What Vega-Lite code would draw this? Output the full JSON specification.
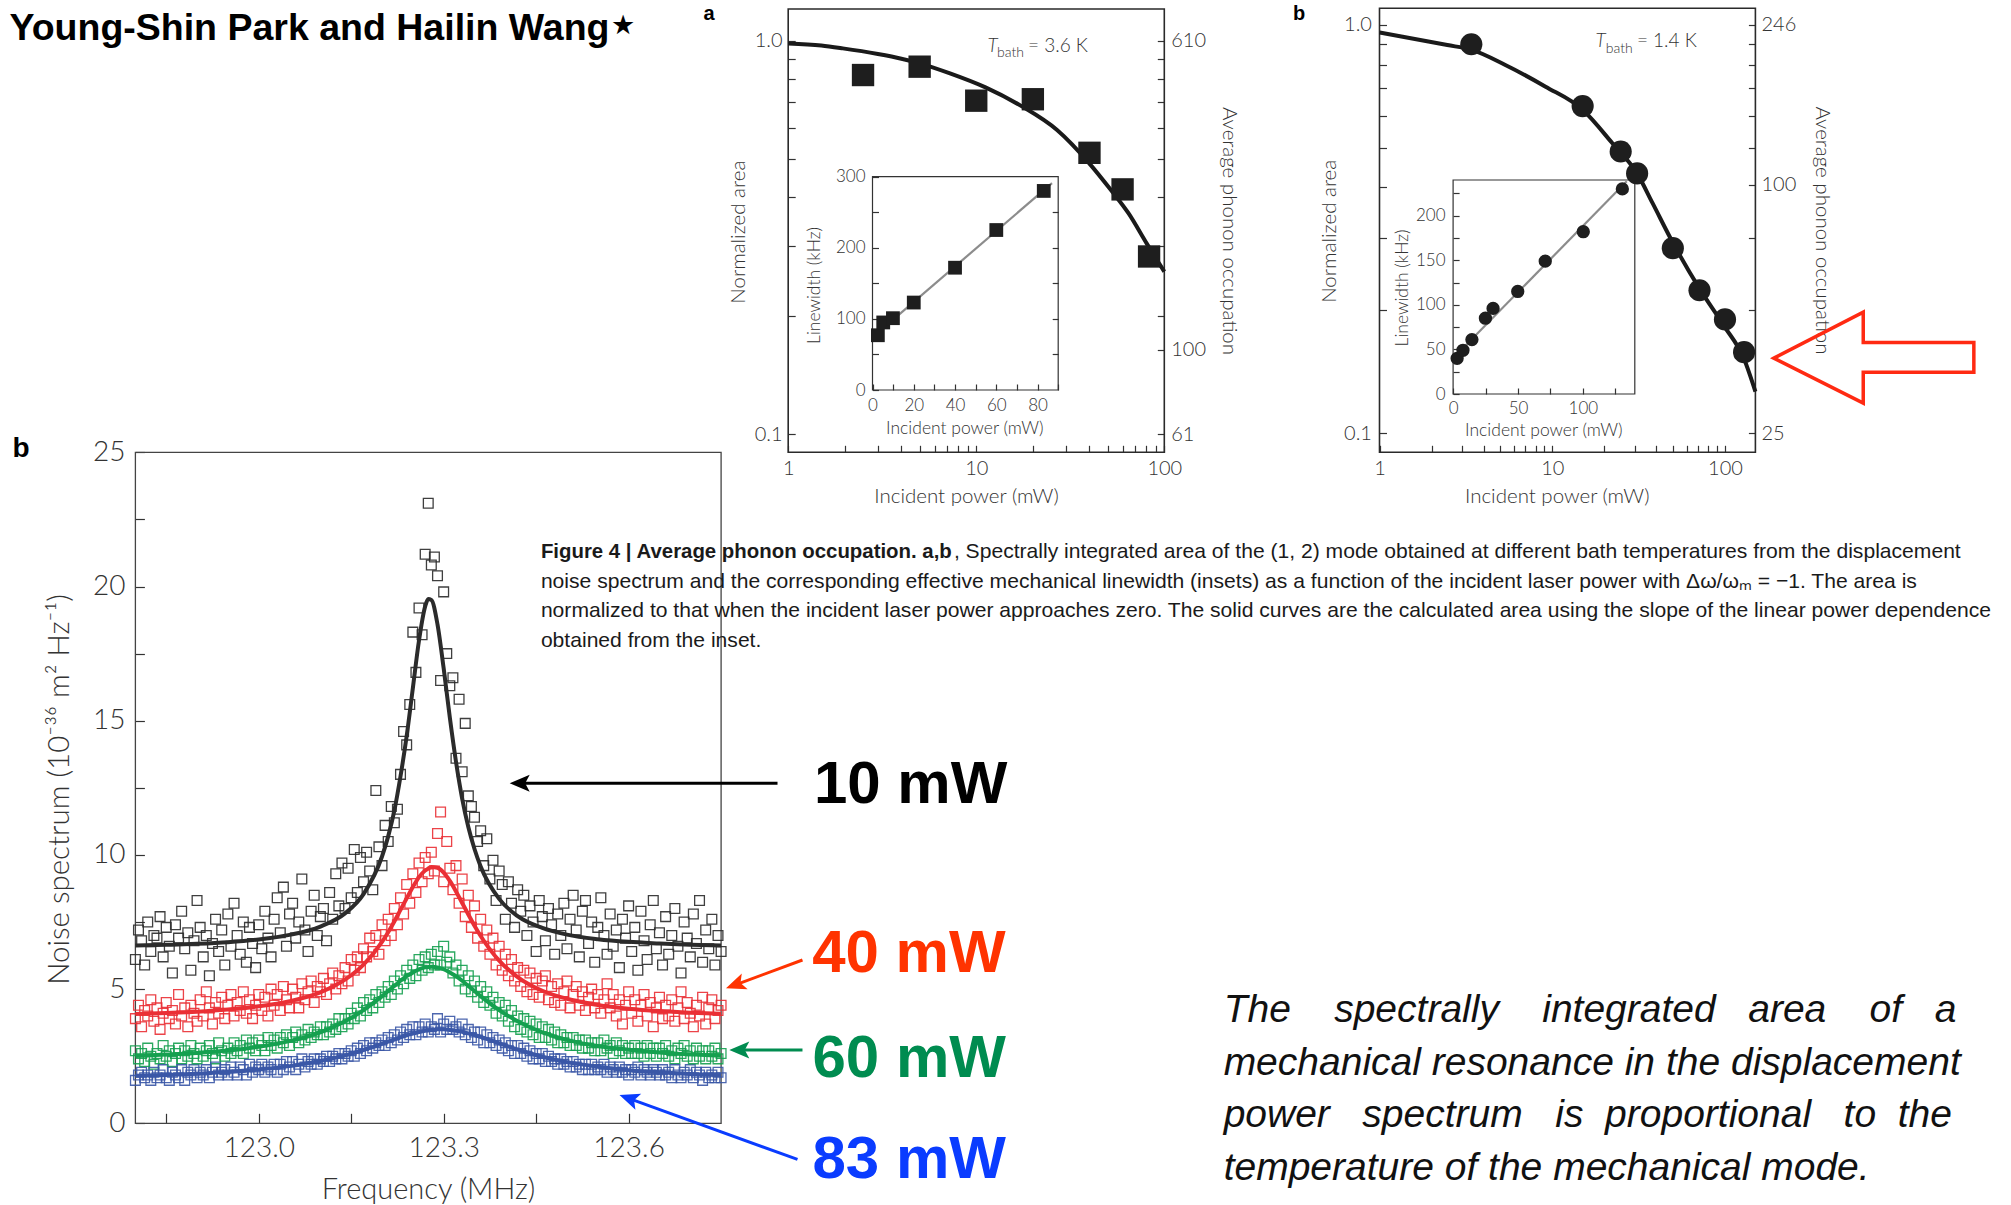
{
  "$schema": "https://vega.github.io/schema/vega-lite/v6.json",
  "width": 2011,
  "height": 1205,
  "autosize": {"type": "none"},
  "padding": 0,
  "background": "#ffffff",
  "config": {
    "view": {"stroke": null},
    "axis": {
      "grid": false, "domain": false,
      "labelFont": "Lato", "titleFont": "Lato",
      "labelFontWeight": 300, "titleFontWeight": 300,
      "labelColor": "#333333", "titleColor": "#333333",
      "tickColor": "#333333", "tickWidth": 1.2,
      "labelOverlap": false, "labelFlush": false, "labelBound": false
    },
    "text": {"font": "Lato"}
  },
  "datasets": {
    "spectra": [
      {"f":122.800,"p10":6.1,"p40":3.9,"p60":2.7,"p83":1.6},
      {"f":122.805,"p10":7.2,"p40":4.4,"p60":2.4,"p83":1.8},
      {"f":122.810,"p10":6.8,"p40":3.6,"p60":2.6,"p83":1.9},
      {"f":122.815,"p10":5.9,"p40":4.2,"p60":2.3,"p83":1.7},
      {"f":122.820,"p10":7.5,"p40":4.0,"p60":2.8,"p83":1.8},
      {"f":122.825,"p10":6.4,"p40":4.6,"p60":2.5,"p83":1.6},
      {"f":122.830,"p10":7.0,"p40":3.8,"p60":2.2,"p83":1.9},
      {"f":122.835,"p10":6.9,"p40":4.3,"p60":2.6,"p83":1.7},
      {"f":122.840,"p10":7.7,"p40":3.5,"p60":2.4,"p83":1.8},
      {"f":122.845,"p10":6.2,"p40":4.1,"p60":2.9,"p83":2.0},
      {"f":122.850,"p10":7.3,"p40":4.5,"p60":2.5,"p83":1.7},
      {"f":122.855,"p10":6.6,"p40":3.9,"p60":2.7,"p83":1.6},
      {"f":122.860,"p10":5.6,"p40":4.2,"p60":2.3,"p83":1.9},
      {"f":122.865,"p10":7.4,"p40":3.7,"p60":2.6,"p83":1.8},
      {"f":122.870,"p10":6.9,"p40":4.8,"p60":2.8,"p83":1.7},
      {"f":122.875,"p10":7.9,"p40":4.0,"p60":2.4,"p83":2.0},
      {"f":122.880,"p10":6.5,"p40":4.3,"p60":2.7,"p83":1.6},
      {"f":122.885,"p10":7.1,"p40":3.6,"p60":2.5,"p83":1.9},
      {"f":122.890,"p10":5.7,"p40":4.4,"p60":2.9,"p83":1.8},
      {"f":122.895,"p10":6.8,"p40":4.1,"p60":2.6,"p83":2.0},
      {"f":122.900,"p10":8.3,"p40":3.8,"p60":2.4,"p83":1.7},
      {"f":122.905,"p10":7.3,"p40":4.6,"p60":2.8,"p83":1.9},
      {"f":122.910,"p10":6.2,"p40":4.0,"p60":2.5,"p83":1.8},
      {"f":122.915,"p10":7.0,"p40":4.9,"p60":2.7,"p83":2.0},
      {"f":122.920,"p10":5.5,"p40":4.3,"p60":2.9,"p83":1.7},
      {"f":122.925,"p10":6.7,"p40":3.7,"p60":2.6,"p83":1.9},
      {"f":122.930,"p10":7.6,"p40":4.5,"p60":2.4,"p83":2.1},
      {"f":122.935,"p10":6.4,"p40":4.1,"p60":3.0,"p83":1.8},
      {"f":122.940,"p10":7.2,"p40":4.7,"p60":2.7,"p83":1.9},
      {"f":122.945,"p10":5.9,"p40":3.9,"p60":2.5,"p83":2.0},
      {"f":122.950,"p10":7.8,"p40":4.4,"p60":2.8,"p83":1.8},
      {"f":122.955,"p10":6.6,"p40":4.8,"p60":2.6,"p83":2.1},
      {"f":122.960,"p10":8.2,"p40":4.0,"p60":3.0,"p83":1.9},
      {"f":122.965,"p10":7.0,"p40":4.5,"p60":2.7,"p83":1.8},
      {"f":122.970,"p10":6.3,"p40":4.2,"p60":2.9,"p83":2.1},
      {"f":122.975,"p10":7.5,"p40":4.9,"p60":2.6,"p83":2.0},
      {"f":122.980,"p10":6.0,"p40":4.1,"p60":3.1,"p83":1.8},
      {"f":122.985,"p10":7.3,"p40":4.6,"p60":2.8,"p83":2.2},
      {"f":122.990,"p10":6.7,"p40":3.9,"p60":3.0,"p83":1.9},
      {"f":122.995,"p10":5.8,"p40":4.4,"p60":2.7,"p83":2.1},
      {"f":123.000,"p10":7.4,"p40":4.8,"p60":3.1,"p83":2.0},
      {"f":123.005,"p10":6.5,"p40":4.2,"p60":2.9,"p83":2.2},
      {"f":123.010,"p10":7.9,"p40":4.7,"p60":2.7,"p83":1.9},
      {"f":123.015,"p10":6.9,"p40":4.0,"p60":3.2,"p83":2.1},
      {"f":123.020,"p10":6.2,"p40":5.0,"p60":2.9,"p83":2.0},
      {"f":123.025,"p10":7.6,"p40":4.4,"p60":3.1,"p83":2.2},
      {"f":123.030,"p10":8.4,"p40":4.8,"p60":2.8,"p83":1.9},
      {"f":123.035,"p10":7.1,"p40":4.2,"p60":3.2,"p83":2.2},
      {"f":123.040,"p10":8.8,"p40":5.1,"p60":3.0,"p83":2.0},
      {"f":123.045,"p10":6.6,"p40":4.6,"p60":3.3,"p83":2.3},
      {"f":123.050,"p10":7.8,"p40":4.3,"p60":2.9,"p83":2.1},
      {"f":123.055,"p10":8.2,"p40":5.0,"p60":3.2,"p83":2.3},
      {"f":123.060,"p10":6.9,"p40":4.7,"p60":3.4,"p83":2.0},
      {"f":123.065,"p10":7.5,"p40":4.3,"p60":3.0,"p83":2.2},
      {"f":123.070,"p10":9.1,"p40":5.2,"p60":3.3,"p83":2.4},
      {"f":123.075,"p10":7.2,"p40":4.6,"p60":3.1,"p83":2.1},
      {"f":123.080,"p10":6.4,"p40":4.9,"p60":3.5,"p83":2.3},
      {"f":123.085,"p10":7.9,"p40":5.3,"p60":3.2,"p83":2.2},
      {"f":123.090,"p10":8.5,"p40":4.5,"p60":3.4,"p83":2.4},
      {"f":123.095,"p10":7.0,"p40":5.1,"p60":3.3,"p83":2.2},
      {"f":123.100,"p10":7.7,"p40":4.9,"p60":3.6,"p83":2.4},
      {"f":123.105,"p10":8.0,"p40":5.4,"p60":3.3,"p83":2.3},
      {"f":123.110,"p10":6.8,"p40":4.8,"p60":3.6,"p83":2.5},
      {"f":123.115,"p10":8.6,"p40":5.2,"p60":3.4,"p83":2.3},
      {"f":123.120,"p10":7.6,"p40":5.6,"p60":3.7,"p83":2.5},
      {"f":123.125,"p10":9.3,"p40":5.0,"p60":3.5,"p83":2.4},
      {"f":123.130,"p10":8.1,"p40":5.5,"p60":3.9,"p83":2.6},
      {"f":123.135,"p10":9.7,"p40":5.2,"p60":3.6,"p83":2.4},
      {"f":123.140,"p10":8.0,"p40":5.8,"p60":3.9,"p83":2.6},
      {"f":123.145,"p10":9.5,"p40":5.3,"p60":3.7,"p83":2.5},
      {"f":123.150,"p10":8.4,"p40":6.1,"p60":4.1,"p83":2.7},
      {"f":123.155,"p10":10.2,"p40":5.7,"p60":3.9,"p83":2.5},
      {"f":123.160,"p10":8.6,"p40":6.2,"p60":4.3,"p83":2.8},
      {"f":123.165,"p10":9.9,"p40":5.8,"p60":4.0,"p83":2.6},
      {"f":123.170,"p10":9.0,"p40":6.5,"p60":4.5,"p83":2.9},
      {"f":123.175,"p10":10.1,"p40":6.2,"p60":4.2,"p83":2.7},
      {"f":123.180,"p10":9.4,"p40":6.9,"p60":4.6,"p83":3.0},
      {"f":123.185,"p10":8.7,"p40":6.4,"p60":4.3,"p83":2.8},
      {"f":123.190,"p10":12.4,"p40":7.0,"p60":4.8,"p83":3.0},
      {"f":123.195,"p10":10.3,"p40":6.3,"p60":4.5,"p83":2.9},
      {"f":123.200,"p10":9.6,"p40":7.4,"p60":4.9,"p83":3.1},
      {"f":123.205,"p10":11.1,"p40":6.8,"p60":4.7,"p83":2.9},
      {"f":123.210,"p10":10.5,"p40":7.6,"p60":5.1,"p83":3.2},
      {"f":123.215,"p10":11.8,"p40":7.0,"p60":4.8,"p83":3.0},
      {"f":123.220,"p10":11.2,"p40":8.0,"p60":5.3,"p83":3.3},
      {"f":123.225,"p10":11.7,"p40":7.4,"p60":5.0,"p83":3.1},
      {"f":123.230,"p10":13.0,"p40":8.4,"p60":5.5,"p83":3.4},
      {"f":123.235,"p10":14.6,"p40":7.8,"p60":5.2,"p83":3.2},
      {"f":123.240,"p10":14.1,"p40":8.9,"p60":5.7,"p83":3.5},
      {"f":123.245,"p10":15.6,"p40":8.2,"p60":5.4,"p83":3.3},
      {"f":123.250,"p10":18.3,"p40":9.3,"p60":5.9,"p83":3.6},
      {"f":123.255,"p10":16.8,"p40":8.6,"p60":5.5,"p83":3.3},
      {"f":123.260,"p10":19.2,"p40":9.7,"p60":6.1,"p83":3.6},
      {"f":123.265,"p10":18.2,"p40":9.0,"p60":5.7,"p83":3.4},
      {"f":123.270,"p10":21.2,"p40":9.9,"p60":6.2,"p83":3.7},
      {"f":123.275,"p10":23.1,"p40":9.3,"p60":5.8,"p83":3.4},
      {"f":123.280,"p10":20.8,"p40":10.1,"p60":6.3,"p83":3.6},
      {"f":123.285,"p10":21.1,"p40":9.4,"p60":5.9,"p83":3.5},
      {"f":123.290,"p10":20.4,"p40":10.8,"p60":6.4,"p83":3.9},
      {"f":123.295,"p10":16.5,"p40":11.6,"p60":5.9,"p83":3.4},
      {"f":123.300,"p10":19.8,"p40":9.0,"p60":6.6,"p83":3.7},
      {"f":123.305,"p10":17.5,"p40":10.5,"p60":6.0,"p83":3.5},
      {"f":123.310,"p10":16.3,"p40":9.5,"p60":6.2,"p83":3.8},
      {"f":123.315,"p10":16.6,"p40":8.7,"p60":5.6,"p83":3.5},
      {"f":123.320,"p10":13.6,"p40":9.6,"p60":5.9,"p83":3.6},
      {"f":123.325,"p10":15.8,"p40":8.2,"p60":5.3,"p83":3.4},
      {"f":123.330,"p10":13.1,"p40":9.1,"p60":5.7,"p83":3.7},
      {"f":123.335,"p10":14.9,"p40":7.7,"p60":5.0,"p83":3.3},
      {"f":123.340,"p10":12.2,"p40":8.5,"p60":5.5,"p83":3.5},
      {"f":123.345,"p10":11.8,"p40":7.3,"p60":4.9,"p83":3.2},
      {"f":123.350,"p10":11.4,"p40":8.1,"p60":5.3,"p83":3.4},
      {"f":123.355,"p10":10.5,"p40":6.9,"p60":4.7,"p83":3.1},
      {"f":123.360,"p10":10.9,"p40":7.6,"p60":5.1,"p83":3.4},
      {"f":123.365,"p10":9.6,"p40":6.6,"p60":4.5,"p83":3.0},
      {"f":123.370,"p10":10.6,"p40":7.2,"p60":4.9,"p83":3.3},
      {"f":123.375,"p10":9.1,"p40":6.3,"p60":4.4,"p83":3.0},
      {"f":123.380,"p10":9.8,"p40":6.9,"p60":4.7,"p83":3.2},
      {"f":123.385,"p10":8.3,"p40":5.9,"p60":4.1,"p83":2.9},
      {"f":123.390,"p10":9.4,"p40":6.6,"p60":4.5,"p83":3.1},
      {"f":123.395,"p10":8.9,"p40":5.7,"p60":4.0,"p83":2.8},
      {"f":123.400,"p10":7.6,"p40":6.3,"p60":4.4,"p83":3.0},
      {"f":123.405,"p10":9.0,"p40":5.5,"p60":3.8,"p83":2.7},
      {"f":123.410,"p10":8.2,"p40":6.1,"p60":4.2,"p83":2.9},
      {"f":123.415,"p10":7.3,"p40":5.3,"p60":3.6,"p83":2.6},
      {"f":123.420,"p10":8.7,"p40":5.8,"p60":4.0,"p83":2.9},
      {"f":123.425,"p10":7.9,"p40":5.1,"p60":3.5,"p83":2.6},
      {"f":123.430,"p10":8.5,"p40":5.7,"p60":3.9,"p83":2.8},
      {"f":123.435,"p10":7.0,"p40":4.9,"p60":3.4,"p83":2.5},
      {"f":123.440,"p10":8.1,"p40":5.6,"p60":3.8,"p83":2.7},
      {"f":123.445,"p10":7.5,"p40":4.8,"p60":3.3,"p83":2.4},
      {"f":123.450,"p10":6.4,"p40":5.4,"p60":3.7,"p83":2.6},
      {"f":123.455,"p10":8.3,"p40":4.7,"p60":3.2,"p83":2.4},
      {"f":123.460,"p10":7.7,"p40":5.3,"p60":3.6,"p83":2.6},
      {"f":123.465,"p10":6.8,"p40":5.5,"p60":3.2,"p83":2.3},
      {"f":123.470,"p10":8.0,"p40":4.6,"p60":3.5,"p83":2.5},
      {"f":123.475,"p10":7.4,"p40":5.1,"p60":3.1,"p83":2.3},
      {"f":123.480,"p10":6.3,"p40":4.5,"p60":3.4,"p83":2.4},
      {"f":123.485,"p10":7.8,"p40":5.2,"p60":3.0,"p83":2.2},
      {"f":123.490,"p10":7.0,"p40":4.4,"p60":3.3,"p83":2.4},
      {"f":123.495,"p10":8.2,"p40":4.9,"p60":3.0,"p83":2.2},
      {"f":123.500,"p10":6.5,"p40":5.3,"p60":3.2,"p83":2.3},
      {"f":123.505,"p10":7.6,"p40":4.3,"p60":2.9,"p83":2.1},
      {"f":123.510,"p10":8.5,"p40":4.8,"p60":3.2,"p83":2.3},
      {"f":123.515,"p10":7.2,"p40":5.1,"p60":2.9,"p83":2.1},
      {"f":123.520,"p10":6.2,"p40":4.4,"p60":3.1,"p83":2.2},
      {"f":123.525,"p10":7.9,"p40":4.9,"p60":2.8,"p83":2.0},
      {"f":123.530,"p10":8.3,"p40":4.2,"p60":3.1,"p83":2.2},
      {"f":123.535,"p10":6.7,"p40":4.7,"p60":2.8,"p83":2.0},
      {"f":123.540,"p10":7.5,"p40":5.0,"p60":3.0,"p83":2.2},
      {"f":123.545,"p10":6.0,"p40":4.3,"p60":2.7,"p83":2.0},
      {"f":123.550,"p10":7.3,"p40":4.8,"p60":3.0,"p83":2.1},
      {"f":123.555,"p10":8.4,"p40":4.1,"p60":2.7,"p83":2.0},
      {"f":123.560,"p10":7.0,"p40":4.6,"p60":3.1,"p83":2.2},
      {"f":123.565,"p10":6.3,"p40":5.2,"p60":2.8,"p83":1.9},
      {"f":123.570,"p10":7.8,"p40":4.3,"p60":2.9,"p83":2.1},
      {"f":123.575,"p10":6.6,"p40":4.8,"p60":2.6,"p83":2.0},
      {"f":123.580,"p10":7.2,"p40":4.0,"p60":3.0,"p83":1.9},
      {"f":123.585,"p10":5.8,"p40":4.6,"p60":2.7,"p83":2.1},
      {"f":123.590,"p10":7.6,"p40":3.7,"p60":2.9,"p83":1.9},
      {"f":123.595,"p10":6.9,"p40":4.4,"p60":2.6,"p83":2.0},
      {"f":123.600,"p10":8.1,"p40":4.9,"p60":2.8,"p83":1.8},
      {"f":123.605,"p10":6.4,"p40":4.1,"p60":2.6,"p83":2.0},
      {"f":123.610,"p10":7.3,"p40":4.6,"p60":2.9,"p83":1.9},
      {"f":123.615,"p10":5.7,"p40":3.8,"p60":2.6,"p83":2.1},
      {"f":123.620,"p10":7.9,"p40":4.4,"p60":2.8,"p83":1.8},
      {"f":123.625,"p10":6.8,"p40":4.8,"p60":2.5,"p83":2.0},
      {"f":123.630,"p10":6.1,"p40":4.0,"p60":2.9,"p83":1.9},
      {"f":123.635,"p10":7.4,"p40":4.5,"p60":2.6,"p83":1.8},
      {"f":123.640,"p10":8.3,"p40":3.6,"p60":2.8,"p83":2.0},
      {"f":123.645,"p10":6.5,"p40":4.3,"p60":2.5,"p83":1.9},
      {"f":123.650,"p10":7.1,"p40":4.7,"p60":2.8,"p83":1.8},
      {"f":123.655,"p10":5.9,"p40":3.9,"p60":2.6,"p83":2.0},
      {"f":123.660,"p10":7.7,"p40":4.4,"p60":2.9,"p83":1.8},
      {"f":123.665,"p10":6.3,"p40":4.0,"p60":2.5,"p83":1.9},
      {"f":123.670,"p10":7.0,"p40":4.6,"p60":2.7,"p83":1.7},
      {"f":123.675,"p10":8.0,"p40":3.8,"p60":2.4,"p83":2.0},
      {"f":123.680,"p10":6.6,"p40":4.3,"p60":2.8,"p83":1.8},
      {"f":123.685,"p10":5.6,"p40":4.9,"p60":2.6,"p83":1.7},
      {"f":123.690,"p10":7.5,"p40":3.9,"p60":2.9,"p83":1.9},
      {"f":123.695,"p10":6.9,"p40":4.5,"p60":2.5,"p83":1.8},
      {"f":123.700,"p10":6.2,"p40":4.1,"p60":2.7,"p83":2.0},
      {"f":123.705,"p10":7.8,"p40":3.6,"p60":2.4,"p83":1.7},
      {"f":123.710,"p10":6.7,"p40":4.4,"p60":2.8,"p83":1.9},
      {"f":123.715,"p10":8.3,"p40":4.0,"p60":2.5,"p83":1.8},
      {"f":123.720,"p10":6.0,"p40":4.7,"p60":2.7,"p83":1.6},
      {"f":123.725,"p10":7.2,"p40":3.7,"p60":2.4,"p83":1.9},
      {"f":123.730,"p10":6.5,"p40":4.3,"p60":2.7,"p83":1.7},
      {"f":123.735,"p10":7.6,"p40":4.6,"p60":2.5,"p83":1.8},
      {"f":123.740,"p10":5.9,"p40":3.9,"p60":2.8,"p83":1.7},
      {"f":123.745,"p10":7.0,"p40":4.2,"p60":2.4,"p83":1.9},
      {"f":123.750,"p10":6.4,"p40":4.4,"p60":2.6,"p83":1.7}
    ],
    "fits": [
      {"f":122.80,"p10":6.62,"p40":4.07,"p60":2.51,"p83":1.77},
      {"f":122.85,"p10":6.65,"p40":4.11,"p60":2.56,"p83":1.80},
      {"f":122.90,"p10":6.69,"p40":4.16,"p60":2.62,"p83":1.85},
      {"f":122.95,"p10":6.75,"p40":4.24,"p60":2.71,"p83":1.91},
      {"f":123.00,"p10":6.85,"p40":4.36,"p60":2.85,"p83":2.00},
      {"f":123.05,"p10":7.02,"p40":4.55,"p60":3.06,"p83":2.13},
      {"f":123.10,"p10":7.33,"p40":4.88,"p60":3.39,"p83":2.32},
      {"f":123.14,"p10":7.82,"p40":5.35,"p60":3.80,"p83":2.53},
      {"f":123.17,"p10":8.54,"p40":5.91,"p60":4.22,"p83":2.73},
      {"f":123.20,"p10":9.94,"p40":6.76,"p60":4.74,"p83":2.96},
      {"f":123.21,"p10":10.69,"p40":7.12,"p60":4.93,"p83":3.04},
      {"f":123.22,"p10":11.65,"p40":7.52,"p60":5.12,"p83":3.12},
      {"f":123.23,"p10":12.93,"p40":7.95,"p60":5.31,"p83":3.20},
      {"f":123.24,"p10":14.43,"p40":8.38,"p60":5.48,"p83":3.28},
      {"f":123.25,"p10":16.21,"p40":8.80,"p60":5.62,"p83":3.34},
      {"f":123.26,"p10":17.99,"p40":9.17,"p60":5.74,"p83":3.40},
      {"f":123.27,"p10":19.26,"p40":9.42,"p60":5.81,"p83":3.45},
      {"f":123.275,"p10":19.53,"p40":9.49,"p60":5.82,"p83":3.47},
      {"f":123.28,"p10":19.50,"p40":9.55,"p60":5.83,"p83":3.48},
      {"f":123.29,"p10":18.59,"p40":9.52,"p60":5.81,"p83":3.50},
      {"f":123.30,"p10":16.95,"p40":9.34,"p60":5.74,"p83":3.50},
      {"f":123.31,"p10":15.12,"p40":9.03,"p60":5.62,"p83":3.48},
      {"f":123.32,"p10":13.47,"p40":8.64,"p60":5.48,"p83":3.45},
      {"f":123.33,"p10":12.10,"p40":8.21,"p60":5.31,"p83":3.41},
      {"f":123.34,"p10":11.04,"p40":7.78,"p60":5.12,"p83":3.35},
      {"f":123.35,"p10":10.22,"p40":7.36,"p60":4.93,"p83":3.29},
      {"f":123.36,"p10":9.57,"p40":6.98,"p60":4.74,"p83":3.22},
      {"f":123.39,"p10":8.36,"p40":6.06,"p60":4.22,"p83":2.98},
      {"f":123.42,"p10":7.72,"p40":5.45,"p60":3.80,"p83":2.75},
      {"f":123.46,"p10":7.28,"p40":4.94,"p60":3.39,"p83":2.48},
      {"f":123.50,"p10":7.03,"p40":4.64,"p60":3.11,"p83":2.28},
      {"f":123.55,"p10":6.86,"p40":4.41,"p60":2.88,"p83":2.11},
      {"f":123.60,"p10":6.76,"p40":4.27,"p60":2.74,"p83":1.98},
      {"f":123.65,"p10":6.70,"p40":4.18,"p60":2.64,"p83":1.90},
      {"f":123.70,"p10":6.65,"p40":4.12,"p60":2.57,"p83":1.84},
      {"f":123.75,"p10":6.62,"p40":4.08,"p60":2.52,"p83":1.79}
    ],
    "areaA": [
      {"power":2.5,"area":0.818},{"power":5,"area":0.859},{"power":10,"area":0.704},
      {"power":20,"area":0.710},{"power":40,"area":0.519},{"power":60,"area":0.419},
      {"power":83,"area":0.283}
    ],
    "curveA": [
      {"power":1,"area":0.984},{"power":1.5,"area":0.972},{"power":1.95,"area":0.956},
      {"power":3,"area":0.925},{"power":4,"area":0.9},{"power":5,"area":0.876},
      {"power":7.25,"area":0.826},{"power":11.2,"area":0.761},{"power":17.4,"area":0.682},
      {"power":26.9,"area":0.593},{"power":39.9,"area":0.488},{"power":51.9,"area":0.418},
      {"power":64.6,"area":0.364},{"power":80.4,"area":0.306},{"power":100,"area":0.259}
    ],
    "widthA": [
      {"power":2.6,"linewidth":77},{"power":5.2,"linewidth":95},{"power":9.9,"linewidth":101},
      {"power":20,"linewidth":123},{"power":40,"linewidth":172},{"power":60,"linewidth":225},
      {"power":83,"linewidth":280}
    ],
    "slopeA": [{"power":0,"linewidth":74},{"power":87,"linewidth":291}],
    "areaB": [
      {"power":3.4,"area":0.897},{"power":15,"area":0.633},{"power":24.9,"area":0.49},
      {"power":31,"area":0.433},{"power":49.9,"area":0.284},{"power":71.2,"area":0.224},
      {"power":100,"area":0.19},{"power":129,"area":0.158}
    ],
    "curveB": [
      {"power":1,"area":0.959},{"power":2.47,"area":0.893},{"power":3.39,"area":0.87},
      {"power":5.35,"area":0.798},{"power":9.15,"area":0.706},{"power":15,"area":0.62},
      {"power":22.3,"area":0.513},{"power":31,"area":0.433},{"power":38.1,"area":0.366},
      {"power":49.9,"area":0.293},{"power":71.2,"area":0.226},{"power":98.9,"area":0.183},
      {"power":129,"area":0.152},{"power":150,"area":0.1265}
    ],
    "widthB": [
      {"power":3.1,"linewidth":40},{"power":7.6,"linewidth":49},{"power":14.5,"linewidth":61},
      {"power":24.9,"linewidth":85},{"power":30.8,"linewidth":96},{"power":49.8,"linewidth":115},
      {"power":71,"linewidth":149},{"power":100.3,"linewidth":182},{"power":130.4,"linewidth":230}
    ],
    "slopeB": [{"power":0,"linewidth":40},{"power":133.8,"linewidth":238.5}]
  },
  "data": {"values": [{}]},
  "layer": [
    {
      "layer": [
        {
          "mark": {"type": "rect", "filled": false, "color": "#444444", "strokeWidth": 1.3},
          "encoding": {
            "x": {"datum": 122.8, "type": "quantitative",
              "scale": {"domain": [122.8, 123.75], "range": [135.4, 721.1], "nice": false, "zero": false},
              "axis": {"orient": "bottom", "offset": -81.7,
                "values": [122.85, 123.0, 123.15, 123.3, 123.45, 123.6],
                "labelExpr": "indexof(['123.0','123.3','123.6'], format(datum.value, '.1f')) >= 0 ? format(datum.value, '.1f') : ''",
                "tickSize": -10, "labelPadding": 21, "labelFontSize": 28,
                "title": "Frequency (MHz)", "titleFontSize": 29, "titleX": 428, "titleY": 75,
                "titleBaseline": "alphabetic", "titleAlign": "center"}},
            "x2": {"datum": 123.75},
            "y": {"datum": 0, "type": "quantitative",
              "scale": {"domain": [0, 25], "range": [1123.3, 452.3], "nice": false, "zero": false},
              "axis": {"orient": "left", "offset": -135.4,
                "values": [0, 2.5, 5, 7.5, 10, 12.5, 15, 17.5, 20, 22.5, 25],
                "labelExpr": "datum.value % 5 == 0 ? '' + datum.value : ''",
                "tickSize": -9, "labelPadding": 19.5, "labelFontSize": 28,
                "title": "Noise spectrum (10⁻³⁶ m² Hz⁻¹)", "titleFontSize": 29.5,
                "titleX": -67, "titleY": 789, "titleAngle": 270,
                "titleBaseline": "alphabetic", "titleAlign": "center"}},
            "y2": {"datum": 25}
          }
        },
        {
          "data": {"name": "spectra"},
          "transform": [{"fold": ["p10", "p40", "p60", "p83"], "as": ["power", "noise"]}],
          "mark": {"type": "point", "shape": "square", "filled": false, "size": 95, "strokeWidth": 1.3, "opacity": 0.9},
          "encoding": {
            "x": {"field": "f", "type": "quantitative", "axis": null},
            "y": {"field": "noise", "type": "quantitative", "axis": null},
            "color": {"field": "power", "type": "nominal",
              "scale": {"domain": ["p10", "p40", "p60", "p83"], "range": ["#2b2b2b", "#ea2f35", "#15a04f", "#3a57a7"]},
              "legend": null}
          }
        },
        {
          "data": {"name": "fits"},
          "transform": [{"fold": ["p10", "p40", "p60", "p83"], "as": ["power", "noise"]}],
          "mark": {"type": "line", "strokeWidth": 4, "interpolate": "monotone"},
          "encoding": {
            "x": {"field": "f", "type": "quantitative", "axis": null},
            "y": {"field": "noise", "type": "quantitative", "axis": null},
            "color": {"field": "power", "type": "nominal", "legend": null}
          }
        },
        {
          "mark": {"type": "text", "text": "b", "font": "Liberation Sans", "fontWeight": "bold", "fontSize": 28, "align": "left", "baseline": "alphabetic", "color": "#000000"},
          "encoding": {"x": {"datum": 122.6007, "axis": null}, "y": {"datum": 24.825, "axis": null}}
        },
        {
          "mark": {"type": "text", "text": "Young-Shin Park and Hailin Wang", "font": "Liberation Sans", "fontWeight": "bold", "fontSize": 37.5, "align": "left", "baseline": "alphabetic", "color": "#000000"},
          "encoding": {"x": {"datum": 122.5957, "axis": null}, "y": {"datum": 40.36, "axis": null}}
        },
        {
          "mark": {"type": "text", "text": "★", "font": "DejaVu Sans", "fontSize": 27, "align": "left", "baseline": "alphabetic", "color": "#000000"},
          "encoding": {"x": {"datum": 123.5716, "axis": null}, "y": {"datum": 40.6, "axis": null}}
        },
        {
          "mark": {"type": "text", "text": "Figure 4 | Average phonon occupation. a,b", "font": "Liberation Sans", "fontWeight": "bold", "fontSize": 20.4, "align": "left", "baseline": "alphabetic", "color": "#1a1a1a"},
          "encoding": {"x": {"datum": 123.4577, "axis": null}, "y": {"datum": 21.051, "axis": null}}
        },
        {
          "mark": {"type": "text", "text": ", Spectrally integrated area of the (1, 2) mode obtained at different bath temperatures from the displacement", "font": "Liberation Sans", "fontSize": 21.1, "align": "left", "baseline": "alphabetic", "color": "#1a1a1a"},
          "encoding": {"x": {"datum": 124.1276, "axis": null}, "y": {"datum": 21.051, "axis": null}}
        },
        {
          "mark": {"type": "text",
            "text": ["noise spectrum and the corresponding effective mechanical linewidth (insets) as a function of the incident laser power with Δω/ωₘ = −1. The area is",
                     "normalized to that when the incident laser power approaches zero. The solid curves are the calculated area using the slope of the linear power dependence",
                     "obtained from the inset."],
            "font": "Liberation Sans", "fontSize": 21.1, "lineHeight": 29.2, "align": "left", "baseline": "alphabetic", "color": "#1a1a1a"},
          "encoding": {"x": {"datum": 123.4577, "axis": null}, "y": {"datum": 19.933, "axis": null}}
        },
        {
          "mark": {"type": "text",
            "text": ["The\u00a0\u00a0\u00a0 spectrally\u00a0\u00a0\u00a0 integrated\u00a0\u00a0 area\u00a0\u00a0\u00a0 of\u00a0\u00a0 a",
                     "mechanical resonance in the displacement",
                     "power\u00a0\u00a0 spectrum\u00a0\u00a0 is\u00a0 proportional\u00a0\u00a0 to\u00a0 the",
                     "temperature of the mechanical mode."],
            "font": "Liberation Sans", "fontStyle": "italic", "fontSize": 39, "lineHeight": 52.8, "align": "left", "baseline": "alphabetic", "color": "#111111"},
          "encoding": {"x": {"datum": 124.5651, "axis": null}, "y": {"datum": 3.785, "axis": null}}
        },
        {
          "mark": {"type": "rule", "color": "#000000", "strokeWidth": 3},
          "encoding": {"x": {"datum": 123.8415, "axis": null}, "x2": {"datum": 123.4314}, "y": {"datum": 12.668, "axis": null}, "y2": {"datum": 12.668}}
        },
        {
          "mark": {"type": "point", "shape": "M0,0L2,-0.85L1.55,0L2,0.85Z", "filled": true, "color": "#000000", "size": 400, "opacity": 1},
          "encoding": {"x": {"datum": 123.4071, "axis": null}, "y": {"datum": 12.668, "axis": null}}
        },
        {
          "mark": {"type": "rule", "color": "#ff3300", "strokeWidth": 3},
          "encoding": {"x": {"datum": 123.882, "axis": null}, "x2": {"datum": 123.7808}, "y": {"datum": 6.084, "axis": null}, "y2": {"datum": 5.224}}
        },
        {
          "mark": {"type": "point", "shape": "M0,0L2,-0.85L1.55,0L2,0.85Z", "filled": true, "color": "#ff3300", "size": 400, "opacity": 1, "angle": 339.7},
          "encoding": {"x": {"datum": 123.7579, "axis": null}, "y": {"datum": 5.03, "axis": null}}
        },
        {
          "mark": {"type": "rule", "color": "#008c50", "strokeWidth": 3},
          "encoding": {"x": {"datum": 123.882, "axis": null}, "x2": {"datum": 123.7876}, "y": {"datum": 2.731, "axis": null}, "y2": {"datum": 2.731}}
        },
        {
          "mark": {"type": "point", "shape": "M0,0L2,-0.85L1.55,0L2,0.85Z", "filled": true, "color": "#008c50", "size": 400, "opacity": 1},
          "encoding": {"x": {"datum": 123.7633, "axis": null}, "y": {"datum": 2.731, "axis": null}}
        },
        {
          "mark": {"type": "rule", "color": "#0a3cff", "strokeWidth": 3},
          "encoding": {"x": {"datum": 123.8739, "axis": null}, "x2": {"datum": 123.608}, "y": {"datum": -1.345, "axis": null}, "y2": {"datum": 0.864}}
        },
        {
          "mark": {"type": "point", "shape": "M0,0L2,-0.85L1.55,0L2,0.85Z", "filled": true, "color": "#0a3cff", "size": 400, "opacity": 1, "angle": 19.8},
          "encoding": {"x": {"datum": 123.5852, "axis": null}, "y": {"datum": 1.055, "axis": null}}
        },
        {
          "mark": {"type": "text", "text": "10 mW", "font": "Liberation Sans", "fontWeight": "bold", "fontSize": 60, "align": "left", "baseline": "alphabetic", "color": "#000000"},
          "encoding": {"x": {"datum": 123.9006, "axis": null}, "y": {"datum": 11.934, "axis": null}}
        },
        {
          "mark": {"type": "text", "text": "40 mW", "font": "Liberation Sans", "fontWeight": "bold", "fontSize": 60, "align": "left", "baseline": "alphabetic", "color": "#ff3300"},
          "encoding": {"x": {"datum": 123.8977, "axis": null}, "y": {"datum": 5.648, "axis": null}}
        },
        {
          "mark": {"type": "text", "text": "60 mW", "font": "Liberation Sans", "fontWeight": "bold", "fontSize": 60, "align": "left", "baseline": "alphabetic", "color": "#008c50"},
          "encoding": {"x": {"datum": 123.8982, "axis": null}, "y": {"datum": 1.736, "axis": null}}
        },
        {
          "mark": {"type": "text", "text": "83 mW", "font": "Liberation Sans", "fontWeight": "bold", "fontSize": 60, "align": "left", "baseline": "alphabetic", "color": "#0a3cff"},
          "encoding": {"x": {"datum": 123.8982, "axis": null}, "y": {"datum": -2.038, "axis": null}}
        }
      ],
      "resolve": {"axis": {"x": "independent", "y": "independent"}}
    },
    {
      "layer": [
        {
          "mark": {"type": "rect", "filled": false, "color": "#333333", "strokeWidth": 1.2},
          "encoding": {
            "x": {"datum": 0, "type": "quantitative",
              "scale": {"domain": [0, 90], "range": [872.5, 1058.2], "nice": false, "zero": false},
              "axis": {"orient": "bottom", "offset": -815,
                "values": [0, 10, 20, 30, 40, 50, 60, 70, 80, 90],
                "labelExpr": "datum.value % 20 == 0 && datum.value <= 80 ? '' + datum.value : ''",
                "tickSize": -6, "labelPadding": 13.8, "labelFontSize": 17,
                "title": "Incident power (mW)", "titleFontSize": 17.5, "titleX": 964.3, "titleY": 43,
                "titleBaseline": "alphabetic", "titleAlign": "center"}},
            "x2": {"datum": 90},
            "y": {"datum": 0, "type": "quantitative",
              "scale": {"domain": [0, 300], "range": [390, 176.7], "nice": false, "zero": false},
              "axis": {"orient": "left", "offset": -872.5,
                "values": [0, 50, 100, 150, 200, 250, 300],
                "labelExpr": "datum.value % 100 == 0 ? '' + datum.value : ''",
                "tickSize": -6, "labelPadding": 13.5, "labelFontSize": 17,
                "title": "Linewidth (kHz)", "titleFontSize": 17.5, "titleX": -53.5, "titleY": 285,
                "titleAngle": 270, "titleBaseline": "alphabetic", "titleAlign": "center"}},
            "y2": {"datum": 300}
          }
        },
        {
          "data": {"name": "slopeA"},
          "mark": {"type": "line", "color": "#8c8c8c", "strokeWidth": 2.2},
          "encoding": {
            "x": {"field": "power", "type": "quantitative", "axis": null},
            "y": {"field": "linewidth", "type": "quantitative",
              "axis": {"orient": "right", "offset": -952.8, "values": [50, 100, 150, 200, 250],
                "labels": false, "tickSize": -6, "title": null}}
          }
        },
        {
          "data": {"name": "widthA"},
          "mark": {"type": "point", "shape": "square", "filled": true, "color": "#1e1e1e", "size": 190, "opacity": 1},
          "encoding": {
            "x": {"field": "power", "type": "quantitative", "axis": null},
            "y": {"field": "linewidth", "type": "quantitative", "axis": null}
          }
        }
      ],
      "resolve": {"axis": {"x": "independent", "y": "independent"}}
    },
    {
      "layer": [
        {
          "mark": {"type": "rect", "filled": false, "color": "#333333", "strokeWidth": 1.2},
          "encoding": {
            "x": {"datum": 0, "type": "quantitative",
              "scale": {"domain": [0, 140], "range": [1453.1, 1634.8], "nice": false, "zero": false},
              "axis": {"orient": "bottom", "offset": -811,
                "values": [0, 25, 50, 75, 100, 125],
                "labelExpr": "datum.value % 50 == 0 ? '' + datum.value : ''",
                "tickSize": -6, "labelPadding": 12.8, "labelFontSize": 17,
                "title": "Incident power (mW)", "titleFontSize": 17.5, "titleX": 1543.3, "titleY": 41,
                "titleBaseline": "alphabetic", "titleAlign": "center"}},
            "x2": {"datum": 140},
            "y": {"datum": 0, "type": "quantitative",
              "scale": {"domain": [0, 240], "range": [394, 180], "nice": false, "zero": false},
              "axis": {"orient": "left", "offset": -1453.1,
                "values": [0, 25, 50, 75, 100, 125, 150, 175, 200, 225],
                "labelExpr": "datum.value % 50 == 0 ? '' + datum.value : ''",
                "tickSize": -6, "labelPadding": 14.1, "labelFontSize": 17,
                "title": "Linewidth (kHz)", "titleFontSize": 17.5, "titleX": -46, "titleY": 287.5,
                "titleAngle": 270, "titleBaseline": "alphabetic", "titleAlign": "center"}},
            "y2": {"datum": 240}
          }
        },
        {
          "data": {"name": "slopeB"},
          "mark": {"type": "line", "color": "#8c8c8c", "strokeWidth": 2.2},
          "encoding": {
            "x": {"field": "power", "type": "quantitative", "axis": null},
            "y": {"field": "linewidth", "type": "quantitative", "axis": null}
          }
        },
        {
          "data": {"name": "widthB"},
          "mark": {"type": "point", "shape": "circle", "filled": true, "color": "#1e1e1e", "size": 177, "opacity": 1},
          "encoding": {
            "x": {"field": "power", "type": "quantitative", "axis": null},
            "y": {"field": "linewidth", "type": "quantitative", "axis": null}
          }
        }
      ],
      "resolve": {"axis": {"x": "independent", "y": "independent"}}
    },
    {
      "layer": [
        {
          "mark": {"type": "rect", "filled": false, "color": "#2a2a2a", "strokeWidth": 1.6},
          "encoding": {
            "x": {"datum": 1, "type": "quantitative",
              "scale": {"type": "log", "domain": [1, 100], "range": [788.2, 1164.3], "nice": false},
              "axis": {"orient": "bottom", "offset": -752.7,
                "values": [1, 2, 3, 4, 5, 6, 7, 8, 9, 10, 20, 30, 40, 50, 60, 70, 80, 90, 100],
                "labelExpr": "datum.value == 1 || datum.value == 10 || datum.value == 100 ? '' + datum.value : ''",
                "tickSize": -7, "labelPadding": 13, "labelFontSize": 20,
                "title": "Incident power (mW)", "titleFontSize": 20.5, "titleX": 966, "titleY": 50.4,
                "titleBaseline": "alphabetic", "titleAlign": "center"}},
            "x2": {"datum": 100},
            "y": {"datum": 0.09, "type": "quantitative",
              "scale": {"type": "log", "domain": [0.09, 1.2037], "range": [452.3, 9], "nice": false},
              "axis": {"orient": "left", "offset": -788.2,
                "values": [0.1, 0.2, 0.3, 0.4, 0.5, 0.6, 0.7, 0.8, 0.9, 1],
                "labelExpr": "datum.value == 1 ? '1.0' : datum.value == 0.1 ? '0.1' : ''",
                "tickSize": -7, "labelPadding": 13.2, "labelFontSize": 20,
                "title": "Normalized area", "titleFontSize": 20.5, "titleX": -43.6, "titleY": 231.7,
                "titleAngle": 270, "titleBaseline": "alphabetic", "titleAlign": "center"}},
            "y2": {"datum": 1.2037}
          }
        },
        {
          "data": {"name": "curveA"},
          "mark": {"type": "line", "color": "#1a1a1a", "strokeWidth": 4, "interpolate": "monotone"},
          "encoding": {
            "x": {"field": "power", "type": "quantitative", "axis": null},
            "y": {"field": "area", "type": "quantitative",
              "axis": {"orient": "right", "offset": -846.7,
                "values": [0.1, 0.1639, 0.2, 0.3, 0.4, 0.5, 0.6, 0.7, 0.8, 0.9, 1],
                "labelExpr": "datum.value == 1 ? '610' : datum.value == 0.1639 ? '100' : datum.value == 0.1 ? '61' : ''",
                "tickSize": -7, "labelPadding": 13.4, "labelFontSize": 20,
                "title": "Average phonon occupation", "titleFontSize": 20.5, "titleX": 57.7, "titleY": 230.5,
                "titleAngle": 90, "titleBaseline": "alphabetic", "titleAlign": "center"}}
          }
        },
        {
          "data": {"name": "areaA"},
          "mark": {"type": "point", "shape": "square", "filled": true, "color": "#1e1e1e", "size": 500, "opacity": 1},
          "encoding": {
            "x": {"field": "power", "type": "quantitative", "axis": null},
            "y": {"field": "area", "type": "quantitative", "axis": null}
          }
        },
        {
          "mark": {"type": "text", "text": "T", "fontStyle": "italic", "fontWeight": 300, "fontSize": 19, "align": "left", "baseline": "alphabetic", "color": "#333333"},
          "encoding": {"x": {"datum": 11.48, "axis": null}, "y": {"datum": 0.9377, "axis": null}}
        },
        {
          "mark": {"type": "text", "text": "bath", "fontWeight": 300, "fontSize": 14, "align": "left", "baseline": "alphabetic", "color": "#333333"},
          "encoding": {"x": {"datum": 12.89, "axis": null}, "y": {"datum": 0.9107, "axis": null}}
        },
        {
          "mark": {"type": "text", "text": "= 3.6 K", "fontWeight": 300, "fontSize": 19, "align": "left", "baseline": "alphabetic", "color": "#333333"},
          "encoding": {"x": {"datum": 18.85, "axis": null}, "y": {"datum": 0.9377, "axis": null}}
        },
        {
          "mark": {"type": "text", "text": "a", "font": "Liberation Sans", "fontWeight": "bold", "fontSize": 20, "align": "left", "baseline": "alphabetic", "color": "#000000"},
          "encoding": {"x": {"datum": 0.3549, "axis": null}, "y": {"datum": 1.1287, "axis": null}}
        }
      ],
      "resolve": {"axis": {"x": "independent", "y": "independent"}}
    },
    {
      "layer": [
        {
          "mark": {"type": "rect", "filled": false, "color": "#2a2a2a", "strokeWidth": 1.6},
          "encoding": {
            "x": {"datum": 1, "type": "quantitative",
              "scale": {"type": "log", "domain": [1, 150], "range": [1379.5, 1755.4], "nice": false},
              "axis": {"orient": "bottom", "offset": -752.7,
                "values": [1, 2, 3, 4, 5, 6, 7, 8, 9, 10, 20, 30, 40, 50, 60, 70, 80, 90, 100],
                "labelExpr": "datum.value == 1 || datum.value == 10 || datum.value == 100 ? '' + datum.value : ''",
                "tickSize": -7, "labelPadding": 13, "labelFontSize": 20,
                "title": "Incident power (mW)", "titleFontSize": 20.5, "titleX": 1556.7, "titleY": 49.7,
                "titleBaseline": "alphabetic", "titleAlign": "center"}},
            "x2": {"datum": 150},
            "y": {"datum": 0.0898, "type": "quantitative",
              "scale": {"type": "log", "domain": [0.0898, 1.0987], "range": [452.3, 8.3], "nice": false},
              "axis": {"orient": "left", "offset": -1379.5,
                "values": [0.1, 0.2, 0.3, 0.4, 0.5, 0.6, 0.7, 0.8, 0.9, 1],
                "labelExpr": "datum.value == 1 ? '1.0' : datum.value == 0.1 ? '0.1' : ''",
                "tickSize": -7, "labelPadding": 15.1, "labelFontSize": 20,
                "title": "Normalized area", "titleFontSize": 20.5, "titleX": -43.8, "titleY": 230.8,
                "titleAngle": 270, "titleBaseline": "alphabetic", "titleAlign": "center"}},
            "y2": {"datum": 1.0987}
          }
        },
        {
          "data": {"name": "curveB"},
          "mark": {"type": "line", "color": "#1a1a1a", "strokeWidth": 4, "interpolate": "monotone"},
          "encoding": {
            "x": {"field": "power", "type": "quantitative", "axis": null},
            "y": {"field": "area", "type": "quantitative",
              "axis": {"orient": "right", "offset": -255.6,
                "values": [0.1, 0.2, 0.3, 0.4065, 0.5, 0.6, 0.7, 0.8, 0.9, 1],
                "labelExpr": "datum.value == 1 ? '246' : datum.value == 0.4065 ? '100' : datum.value == 0.1 ? '25' : ''",
                "tickSize": -7, "labelPadding": 12.6, "labelFontSize": 20,
                "title": "Average phonon occupation", "titleFontSize": 20.5, "titleX": 60, "titleY": 230,
                "titleAngle": 90, "titleBaseline": "alphabetic", "titleAlign": "center"}}
          }
        },
        {
          "data": {"name": "areaB"},
          "mark": {"type": "point", "shape": "circle", "filled": true, "color": "#1e1e1e", "size": 491, "opacity": 1},
          "encoding": {
            "x": {"field": "power", "type": "quantitative", "axis": null},
            "y": {"field": "area", "type": "quantitative", "axis": null}
          }
        },
        {
          "mark": {"type": "text", "text": "T", "fontStyle": "italic", "fontWeight": 300, "fontSize": 19, "align": "left", "baseline": "alphabetic", "color": "#333333"},
          "encoding": {"x": {"datum": 17.78, "axis": null}, "y": {"datum": 0.8848, "axis": null}}
        },
        {
          "mark": {"type": "text", "text": "bath", "fontWeight": 300, "fontSize": 14, "align": "left", "baseline": "alphabetic", "color": "#333333"},
          "encoding": {"x": {"datum": 20.4, "axis": null}, "y": {"datum": 0.8524, "axis": null}}
        },
        {
          "mark": {"type": "text", "text": "= 1.4 K", "fontWeight": 300, "fontSize": 19, "align": "left", "baseline": "alphabetic", "color": "#333333"},
          "encoding": {"x": {"datum": 30.92, "axis": null}, "y": {"datum": 0.8848, "axis": null}}
        },
        {
          "mark": {"type": "text", "text": "b", "font": "Liberation Sans", "fontWeight": "bold", "fontSize": 20, "align": "left", "baseline": "alphabetic", "color": "#000000"},
          "encoding": {"x": {"datum": 0.3157, "axis": null}, "y": {"datum": 1.0286, "axis": null}}
        },
        {
          "mark": {"type": "point", "shape": "M-1,0L-0.106,-0.46L-0.106,-0.156L1,-0.156L1,0.14L-0.106,0.14L-0.106,0.45Z", "filled": false, "color": "#ff2a12", "strokeWidth": 3.5, "strokeJoin": "miter", "size": 40000, "opacity": 1},
          "encoding": {"x": {"datum": 727.4, "axis": null}, "y": {"datum": 0.1527, "axis": null}}
        }
      ],
      "resolve": {"axis": {"x": "independent", "y": "independent"}}
    }
  ],
  "resolve": {"scale": {"x": "independent", "y": "independent"}}
}
